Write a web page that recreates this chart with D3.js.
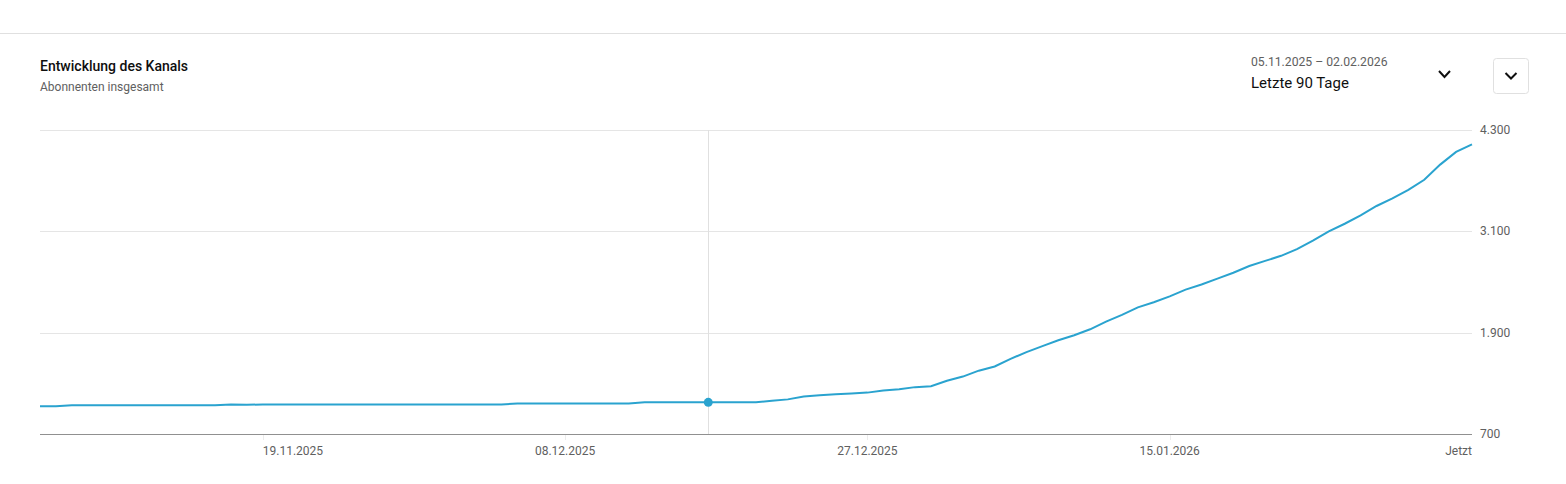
<!DOCTYPE html>
<html>
<head>
<meta charset="utf-8">
<script src="https://cdn.jsdelivr.net/npm/d3@7"></script>
<style>
  body { margin: 0; background: #fff; font-family: Roboto, "Noto Sans", sans-serif; }
</style>
</head>
<body>
<svg id="chart" width="1566" height="484"></svg>
<script>
// data
var startDate = new Date(2025, 10, 5);
var subscribers = [
    1030, 1030,
    1040, 1040, 1040, 1040, 1040, 1040, 1040, 1040, 1040, 1040,
    1050, 1045,
    1050, 1050, 1050, 1050, 1050, 1050, 1050, 1050, 1050, 1050, 1050, 1050, 1050, 1050, 1050, 1050,
    1060, 1060, 1060, 1060, 1060, 1060, 1060, 1060,
    1075, 1075, 1075, 1075, 1075, 1075, 1075, 1075,
    1095, 1110, 1145, 1160, 1170, 1180, 1190, 1215, 1230, 1255,
    1265, 1330, 1380, 1450, 1500, 1590, 1670, 1740, 1810, 1870,
    1940, 2030, 2110, 2200, 2260, 2330, 2410, 2470, 2540, 2610,
    2690, 2750, 2810, 2890, 2990, 3100, 3190, 3290, 3400, 3490,
    3590, 3710, 3890, 4040, 4130
];
var xTickDates = [new Date(2025, 10, 19), new Date(2025, 11, 8), new Date(2025, 11, 27), new Date(2026, 0, 15)];
var xTickLabels = ["19.11.2025", "08.12.2025", "27.12.2025", "15.01.2026"];
var yTicks = [700, 1900, 3100, 4300];
var yTickLabels = ["700", "1.900", "3.100", "4.300"];
var hoverIndex = 42;

var data = subscribers.map(function (v, i) {
    return { date: d3.timeDay.offset(startDate, i), value: v };
});

var margin = { left: 40, right: 94, top: 130, bottom: 50 },
    width = 1566, height = 484;

var svg = d3.select("#chart");

// header
svg.append("line").attr("x1", 0).attr("x2", width).attr("y1", 33.5).attr("y2", 33.5)
    .attr("stroke", "#e0e0e0");
svg.append("text").attr("x", 40).attr("y", 71).text("Entwicklung des Kanals")
    .style("font-size", "14px").style("font-weight", 500).attr("fill", "#0f0f0f");
svg.append("text").attr("x", 40).attr("y", 91).text("Abonnenten insgesamt")
    .style("font-size", "12px").attr("fill", "#606060");
svg.append("text").attr("x", 1251).attr("y", 66).text("05.11.2025 – 02.02.2026")
    .style("font-size", "12.2px").attr("fill", "#606060");
svg.append("text").attr("x", 1251).attr("y", 88).text("Letzte 90 Tage")
    .style("font-size", "15px").attr("fill", "#0f0f0f");
svg.append("path").attr("d", "M1439,71 L1444.5,77 L1450,71")
    .attr("fill", "none").attr("stroke", "#0f0f0f").attr("stroke-width", 2);
svg.append("rect").attr("x", 1493.5).attr("y", 58.5).attr("width", 35).attr("height", 35)
    .attr("rx", 3).attr("fill", "#fff").attr("stroke", "#e0e0e0");
svg.append("path").attr("d", "M1505.5,73 L1511,78.5 L1516.5,73")
    .attr("fill", "none").attr("stroke", "#0f0f0f").attr("stroke-width", 2);

var x = d3.scaleTime()
    .domain(d3.extent(data, d => d.date))
    .range([margin.left, width - margin.right]);
var y = d3.scaleLinear()
    .domain([700, 4300])
    .range([height - margin.bottom, margin.top]);

// grid
svg.append("g").selectAll("line")
    .data(yTicks.slice(1))
    .enter().append("line")
    .attr("x1", margin.left).attr("x2", width - margin.right)
    .attr("y1", d => Math.round(y(d)) + 0.5).attr("y2", d => Math.round(y(d)) + 0.5)
    .attr("stroke", "#e5e5e5");

// y labels
svg.append("g").selectAll("text")
    .data(yTicks)
    .enter().append("text")
    .attr("x", width - margin.right + 8)
    .attr("y", d => y(d) + 4)
    .text((d, i) => yTickLabels[i])
    .style("font-size", "12px").attr("fill", "#606060");

// hover line
var hd = data[hoverIndex];
svg.append("line")
    .attr("x1", Math.round(x(hd.date)) + 0.5).attr("x2", Math.round(x(hd.date)) + 0.5)
    .attr("y1", y(4300)).attr("y2", y(700))
    .attr("stroke", "#e0e0e0");

// baseline
svg.append("line").attr("x1", margin.left).attr("x2", width - margin.right)
    .attr("y1", Math.round(y(700)) + 0.5).attr("y2", Math.round(y(700)) + 0.5)
    .attr("stroke", "#909090");

// x ticks
var xg = svg.append("g");
xg.selectAll("line").data(xTickDates).enter().append("line")
    .attr("x1", d => Math.round(x(d)) + 0.5).attr("x2", d => Math.round(x(d)) + 0.5)
    .attr("y1", y(700) + 1).attr("y2", y(700) + 6).attr("stroke", "#ececec");
xg.selectAll("text").data(xTickDates).enter().append("text")
    .attr("x", d => x(d)).attr("y", y(700) + 21)
    .attr("text-anchor", (d, i) => i === 0 ? "start" : "middle")
    .text((d, i) => xTickLabels[i])
    .style("font-size", "12px").attr("fill", "#606060");
svg.append("text").attr("x", x(data[data.length - 1].date)).attr("y", y(700) + 21)
    .attr("text-anchor", "end").text("Jetzt")
    .style("font-size", "12px").attr("fill", "#606060");

// line
svg.append("path")
    .datum(data)
    .attr("fill", "none")
    .attr("stroke", "#2aa3cf")
    .attr("stroke-width", 2)
    .attr("d", d3.line().x(d => x(d.date)).y(d => y(d.value)));

svg.append("circle")
    .attr("cx", x(hd.date)).attr("cy", y(hd.value)).attr("r", 4.5)
    .attr("fill", "#2aa3cf");
</script>
</body>
</html>
